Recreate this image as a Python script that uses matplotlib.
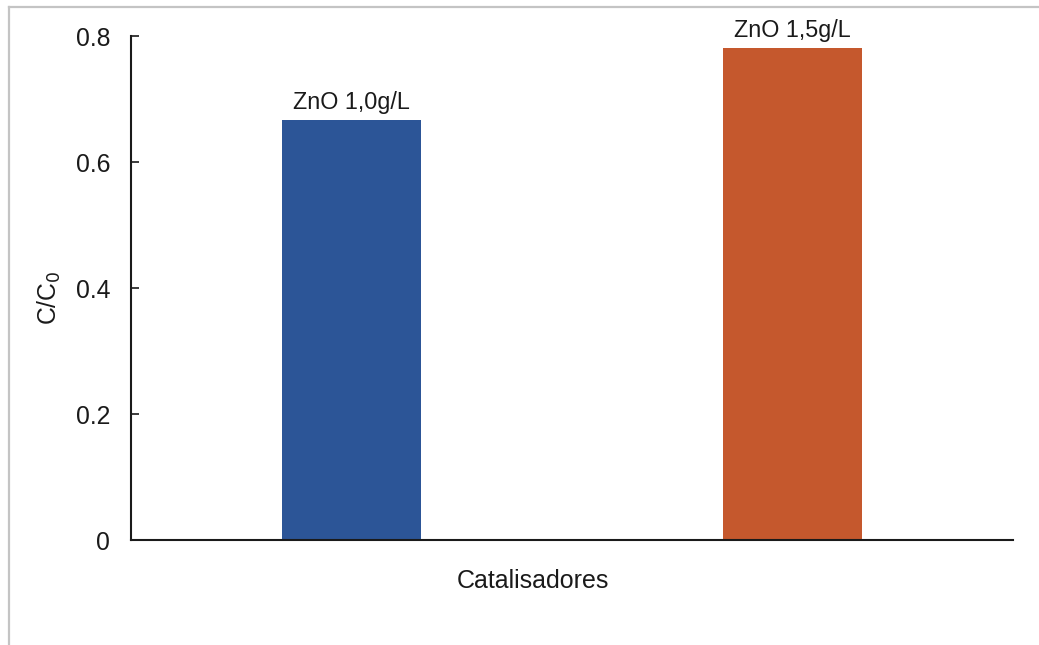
import matplotlib
matplotlib.use("Agg")
import matplotlib.pyplot as plt
from matplotlib.lines import Line2D

plt.rcParams['font.family'] = ['Liberation Sans', 'DejaVu Sans']

categories = ["ZnO 1,0g/L", "ZnO 1,5g/L"]
values = [0.667, 0.781]
colors = ["#2C5597", "#C5582D"]
yticks = [0, 0.2, 0.4, 0.6, 0.8]
ytick_labels = ["0", "0.2", "0.4", "0.6", "0.8"]

W, H = 1039, 645
fig = plt.figure(figsize=(W / 100, H / 100), dpi=100)
ax = fig.add_axes([131 / W, 1 - 540 / H, (1013 - 131) / W, (540 - 36) / H])

x = list(range(len(categories)))
bars = ax.bar(x, values, width=0.313, color=colors)
for xi, v, lab in zip(x, values, categories):
    ax.annotate(lab, (xi, v), xytext=(0, 4), textcoords="offset points",
                ha="center", va="bottom", fontsize=16.8, color="#1a1a1a")

ax.set_xlim(-0.5, 1.5)
ax.set_ylim(0, 0.8)
ax.set_yticks(yticks)
ax.set_yticklabels(ytick_labels)
ax.set_xticks([])
ax.tick_params(axis="y", direction="in", length=6, width=1.2, pad=15,
               labelsize=17.8, colors="#1a1a1a")
for side in ("top", "right"):
    ax.spines[side].set_visible(False)
for side in ("left", "bottom"):
    ax.spines[side].set_linewidth(1.5)
    ax.spines[side].set_color("#1a1a1a")

fig.text(49 / W, 1 - 298 / H, r"C/C$_0$", rotation=90, ha="center", va="center",
         fontsize=17.8, color="#1a1a1a")
fig.text(533 / W, 1 - 581 / H, "Catalisadores", ha="center", va="center",
         fontsize=18, color="#1a1a1a")

# light frame around the chart area
fig.add_artist(Line2D([8.5 / W, 8.5 / W], [0, 1 - 7 / H], transform=fig.transFigure,
                      color="#c4c4c4", linewidth=1.6))
fig.add_artist(Line2D([8.5 / W, 1], [1 - 7 / H, 1 - 7 / H], transform=fig.transFigure,
                      color="#c4c4c4", linewidth=1.6))

fig.savefig("out.png", dpi=100)
